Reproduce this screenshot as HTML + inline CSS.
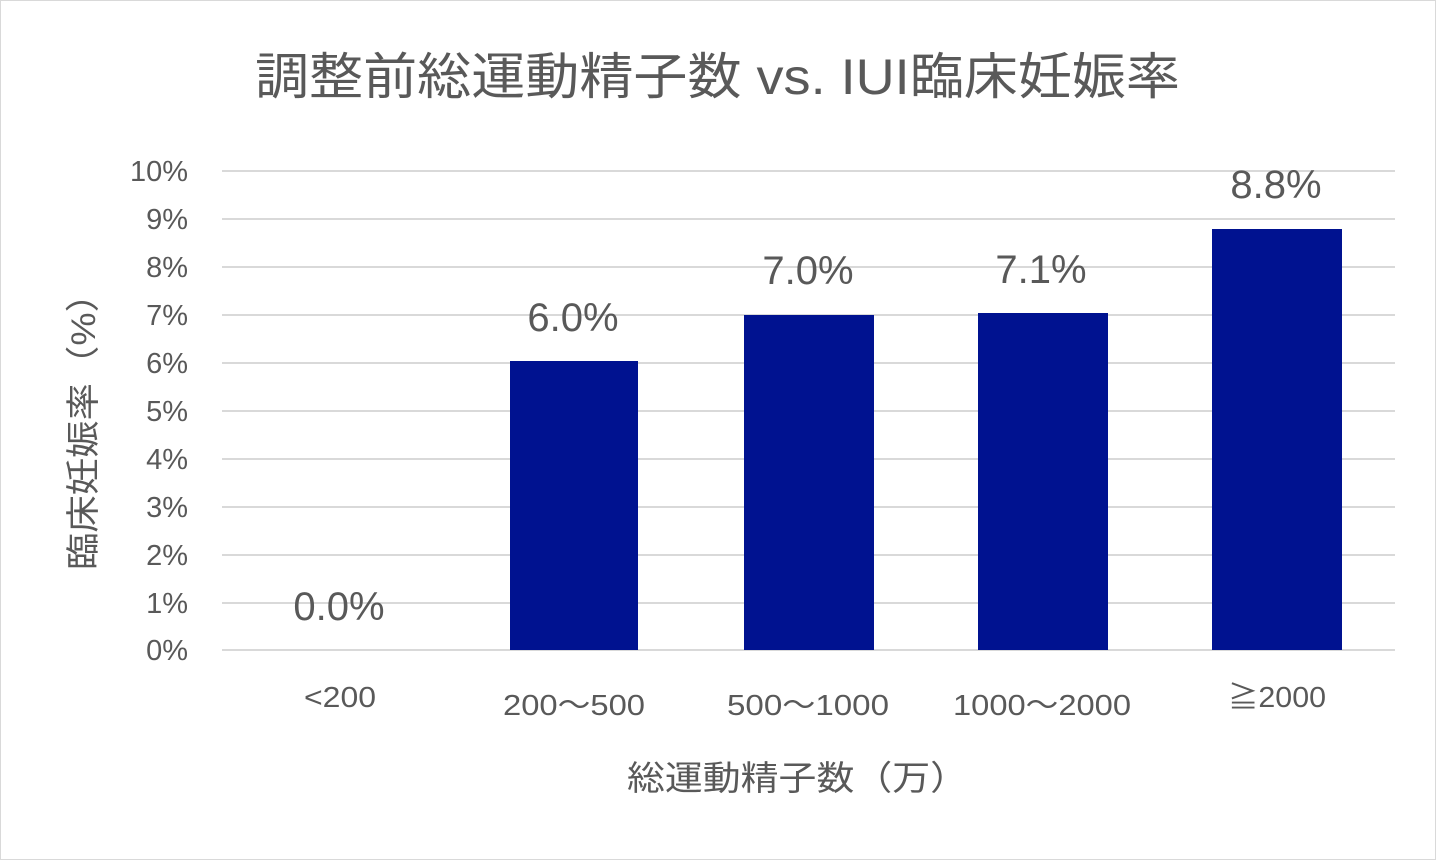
<!DOCTYPE html>
<html><head><meta charset="utf-8"><style>
body{margin:0;background:#fff;}
svg{display:block;}
text{font-family:"Liberation Sans","Noto Sans CJK JP",sans-serif;fill:#595959;}
</style></head><body>
<svg width="1436" height="860" viewBox="0 0 1436 860">
<rect x="0.5" y="0.5" width="1435" height="859" fill="#fff" stroke="#d9d9d9"/>
<text x="255" y="94" font-size="50" textLength="925" lengthAdjust="spacingAndGlyphs">調整前総運動精子数 vs. IUI臨床妊娠率</text>
<g stroke="#d9d9d9" stroke-width="2">
<line x1="222" x2="1395" y1="171" y2="171"/>
<line x1="222" x2="1395" y1="219" y2="219"/>
<line x1="222" x2="1395" y1="267" y2="267"/>
<line x1="222" x2="1395" y1="315" y2="315"/>
<line x1="222" x2="1395" y1="363" y2="363"/>
<line x1="222" x2="1395" y1="411" y2="411"/>
<line x1="222" x2="1395" y1="459" y2="459"/>
<line x1="222" x2="1395" y1="507" y2="507"/>
<line x1="222" x2="1395" y1="555" y2="555"/>
<line x1="222" x2="1395" y1="603" y2="603"/>
<line x1="222" x2="1395" y1="650" y2="650"/>
</g>
<g font-size="29" text-anchor="end">
<text x="188" y="181">10%</text><text x="188" y="229">9%</text><text x="188" y="277">8%</text>
<text x="188" y="325">7%</text><text x="188" y="373">6%</text><text x="188" y="421">5%</text>
<text x="188" y="469">4%</text><text x="188" y="517">3%</text><text x="188" y="565">2%</text>
<text x="188" y="613">1%</text><text x="188" y="660">0%</text>
</g>
<g fill="#001290">
<rect x="510" y="361" width="128" height="289"/>
<rect x="744" y="315" width="130" height="335"/>
<rect x="978" y="313" width="130" height="337"/>
<rect x="1212" y="229" width="130" height="421"/>
</g>
<g font-size="40" text-anchor="middle" style="fill:#404040">
<text x="339" y="620">0.0%</text><text x="573" y="331">6.0%</text><text x="808" y="284">7.0%</text>
<text x="1041" y="283">7.1%</text><text x="1276" y="198">8.8%</text>
</g>
<g font-size="29" text-anchor="middle">
<text x="340" y="707" textLength="72" lengthAdjust="spacingAndGlyphs">&lt;200</text>
<text x="574" y="715" textLength="142" lengthAdjust="spacingAndGlyphs">200～500</text>
<text x="808" y="715" textLength="162" lengthAdjust="spacingAndGlyphs">500～1000</text>
<text x="1042" y="715" textLength="178" lengthAdjust="spacingAndGlyphs">1000～2000</text>
<text x="1277" y="707" textLength="98" lengthAdjust="spacingAndGlyphs">≧2000</text>
</g>
<text x="627" y="790" font-size="34" textLength="341" lengthAdjust="spacingAndGlyphs">総運動精子数（万）</text>
<text transform="translate(95,570) rotate(-90)" font-size="34" textLength="295" lengthAdjust="spacingAndGlyphs">臨床妊娠率（%）</text>
</svg>
</body></html>
